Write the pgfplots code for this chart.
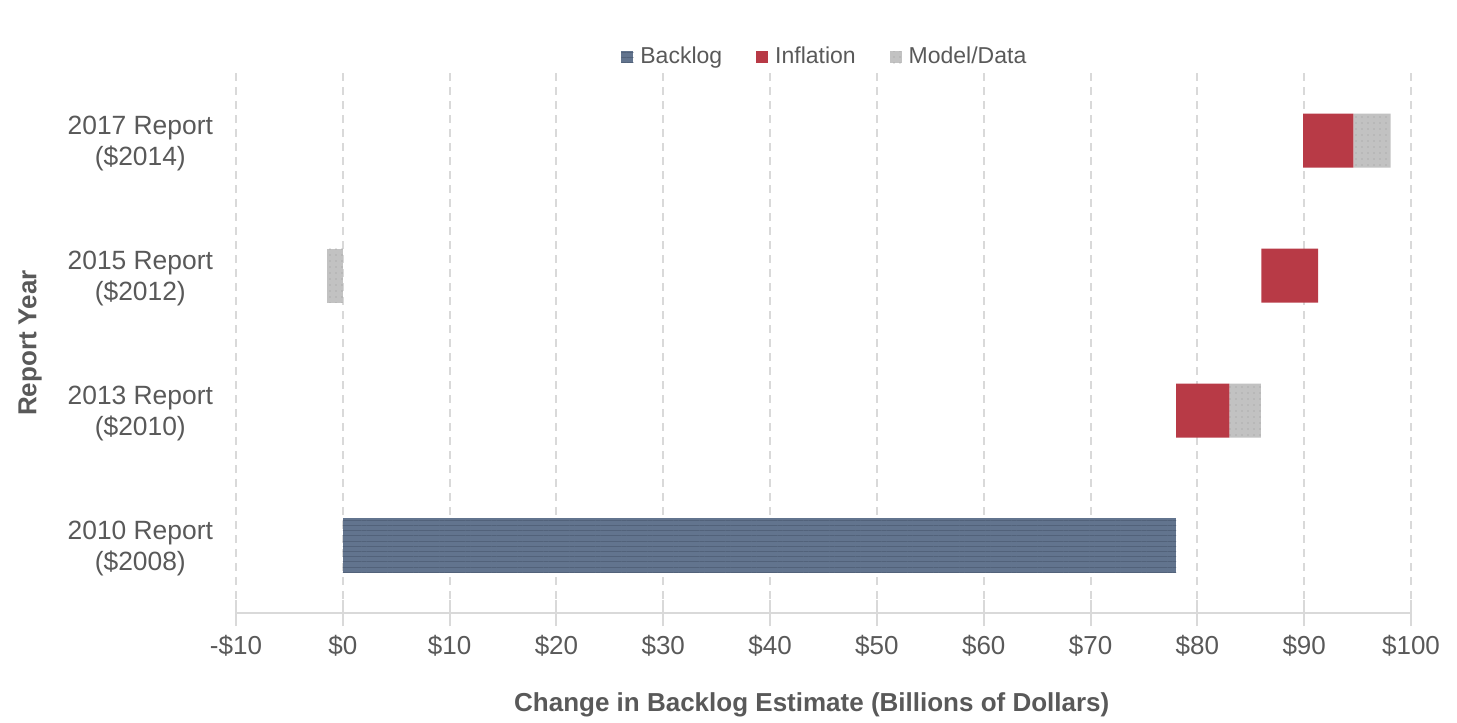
\documentclass[border=0pt]{standalone}
\usepackage{pgfplots}
\pgfplotsset{compat=1.18}
\usepackage{pgfplotstable}
\usepackage{fontspec}
\setmainfont{Liberation Sans}
\usetikzlibrary{patterns.meta}
\definecolor{backc}{HTML}{62748E}
\definecolor{backp}{HTML}{52627A}
\definecolor{inflc}{HTML}{B83A46}
\definecolor{modelc}{HTML}{C2C2C2}
\definecolor{modelp}{HTML}{9A9A9A}
\definecolor{gridc}{HTML}{D9D9D9}
\definecolor{txtc}{HTML}{595959}

\pgfplotstableread{
y neg off backlog infl model
0 0 0 78 0 0
1 0 78 0 5.0 2.95
2 -1.5 86 0 5.3 0
3 0 89.9 0 4.7 3.5
}\data

\begin{document}
\begin{tikzpicture}
\begin{axis}[
  scale only axis,
  width=587.5bp, height=270bp,
  xbar stacked,
  bar width=27bp,
  xmin=-10, xmax=100,
  ymin=-0.5, ymax=3.5,
  axis x line*=bottom,
  axis y line*=left,
  x axis line style={draw=gridc, line width=1bp},
  y axis line style={draw=none},
  xtick={-10,0,10,20,30,40,50,60,70,80,90,100},
  xticklabels={-\$10,\$0,\$10,\$20,\$30,\$40,\$50,\$60,\$70,\$80,\$90,\$100},
  ytick={0,1,2,3},
  yticklabels={{2010 Report\\(\$2008)},{2013 Report\\(\$2010)},{2015 Report\\(\$2012)},{2017 Report\\(\$2014)}},
  yticklabel style={align=center, font=\fontsize{13.2bp}{15.5bp}\selectfont, text=txtc, xshift=-8bp, yshift=-1.5bp},
  xticklabel style={font=\fontsize{13bp}{15bp}\selectfont, text=txtc, yshift=-1bp},
  xtick style={draw=gridc, line width=1bp},
  ytick style={draw=none},
  major tick length=13bp,
  xtick align=center,
  xmajorgrids,
  major grid style={draw=gridc, line width=1bp, dash pattern=on 4bp off 3bp},
  xlabel={Change in Backlog Estimate (Billions of Dollars)},
  ylabel={Report Year},
  xlabel style={font=\fontsize{13bp}{15bp}\selectfont\bfseries, text=txtc, at={(axis description cs:0.49,-0.17)}, anchor=center},
  ylabel style={font=\fontsize{13bp}{15bp}\selectfont\bfseries, text=txtc, at={(axis description cs:-0.1753,0.5)}, anchor=center},
  legend columns=-1,
  legend style={at={(axis description cs:0.502,1)}, anchor=center, yshift=8bp, draw=none, fill=none,
    font=\fontsize{11.5bp}{13bp}\selectfont, text=txtc,
    /tikz/every even column/.append style={column sep=15bp},
    /tikz/every odd column/.append style={column sep=1.5bp},
    inner sep=0pt},
  legend image code/.code={\path[#1, draw=none] (0bp,-3bp) rectangle (6bp,3bp);},
  clip=false,
]
\addplot[fill=modelc, draw=none, postaction={pattern={Dots[radius=0.35bp, distance=3bp]}, pattern color=modelp}, forget plot] table[x=neg, y=y]{\data};
\addplot[fill=none, draw=none, forget plot] table[x=off, y=y]{\data};
\addplot[fill=backc, draw=none, postaction={pattern={Lines[angle=0, distance=2.6bp, line width=0.35bp]}, pattern color=backp}] table[x=backlog, y=y]{\data};
\addlegendentry{Backlog}
\addplot[fill=inflc, draw=none] table[x=infl, y=y]{\data};
\addlegendentry{Inflation}
\addplot[fill=modelc, draw=none, postaction={pattern={Dots[radius=0.35bp, distance=3bp]}, pattern color=modelp}] table[x=model, y=y]{\data};
\addlegendentry{Model/Data}
\end{axis}
\pgfresetboundingbox
\path ([xshift=-118bp,yshift=-55bp]current axis.south west) rectangle ([xshift=23bp,yshift=36.5bp]current axis.north east);
\end{tikzpicture}
\end{document}
